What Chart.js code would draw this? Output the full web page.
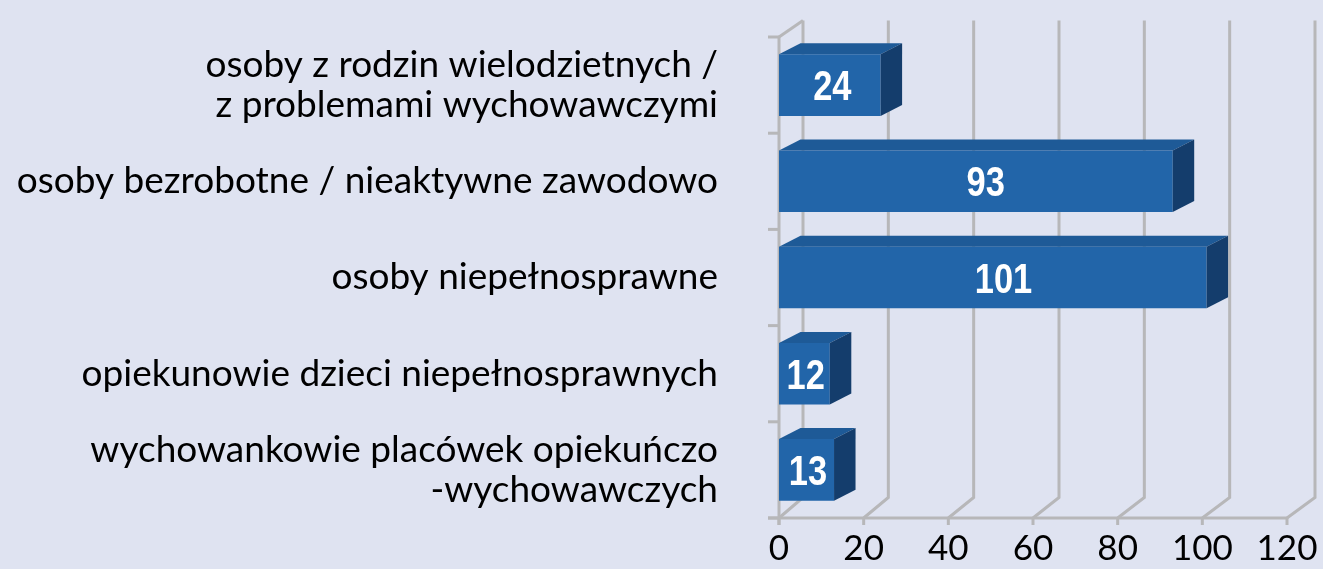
<!DOCTYPE html>
<html>
<head>
<meta charset="utf-8">
<script src="https://cdn.jsdelivr.net/npm/chart.js@4"></script>
<style>
  html, body { margin: 0; padding: 0; background: #dfe3f1; }
  #contenedor { width: 1323px; height: 569px; }
</style>
</head>
<body>
<div id="contenedor"><canvas id="grafico"></canvas></div>
<script>
// datos
const categorias = [
  ["osoby z rodzin wielodzietnych /", "z problemami wychowawczymi"],
  "osoby bezrobotne / nieaktywne zawodowo",
  "osoby niepełnosprawne",
  "opiekunowie dzieci niepełnosprawnych",
  ["wychowankowie placówek opiekuńczo", "-wychowawczych"],
];
const valores = [24, 93, 101, 12, 13];
const ticksX = [0, 20, 40, 60, 80, 100, 120];

const colores = {
  fondo: "#dfe3f1",
  frente: "#2265a9",
  arriba: "#1e5a97",
  lado: "#143d6c",
  rejilla: "#b7b7b9",
};

// paredes, rejilla y caras 3D
const caja3d = {
  id: "caja3d",
  beforeDraw(chart) {
    const ctx = chart.ctx;
    ctx.save();
    ctx.fillStyle = colores.fondo;
    ctx.fillRect(0, 0, chart.width, chart.height);
    ctx.restore();
  },
  beforeDatasetsDraw(chart) {
    const { ctx, chartArea: a, scales } = chart;
    const x = scales.x;
    const y = scales.y;
    const atras = (px, py) => {
      const tx = (px - a.left) / (a.right - a.left);
      const ty = (py - a.top) / (a.bottom - a.top);
      return [px + 24 + 4 * tx, py - 16.5 - 4 * ty];
    };
    ctx.save();
    ctx.strokeStyle = colores.rejilla;
    ctx.lineWidth = 3;
    ctx.lineCap = "butt";
    ticksX.forEach((v) => {
      const px = x.getPixelForValue(v);
      const [bx, bt] = atras(px, a.top);
      const [, bb] = atras(px, a.bottom);
      ctx.beginPath();
      ctx.moveTo(bx, bt);
      ctx.lineTo(bx, bb);
      ctx.lineTo(px, a.bottom);
      ctx.stroke();
      // marca abajo
      ctx.beginPath();
      ctx.moveTo(px, a.bottom);
      ctx.lineTo(px, a.bottom + 7);
      ctx.stroke();
    });
    // pared izquierda arriba
    const [lx, ly] = atras(a.left, a.top);
    ctx.beginPath();
    ctx.moveTo(a.left, a.top);
    ctx.lineTo(lx, ly);
    ctx.stroke();
    // eje vertical
    ctx.beginPath();
    ctx.moveTo(a.left, a.top);
    ctx.lineTo(a.left, a.bottom + 7);
    ctx.stroke();
    // eje horizontal
    ctx.beginPath();
    ctx.moveTo(a.left - 11, a.bottom);
    ctx.lineTo(x.getPixelForValue(ticksX[ticksX.length - 1]), a.bottom);
    ctx.stroke();
    // marcas izquierda
    for (let i = 0; i <= categorias.length; i++) {
      const py = y.getPixelForValue(i - 0.5);
      ctx.beginPath();
      ctx.moveTo(a.left - 11, py);
      ctx.lineTo(a.left, py);
      ctx.stroke();
    }
    ctx.restore();
  },
  afterDatasetsDraw(chart) {
    const ctx = chart.ctx;
    const meta = chart.getDatasetMeta(0);
    const dx = 21.5;
    const dy = -11;
    ctx.save();
    meta.data.forEach((barra, i) => {
      const x0 = barra.base;
      const x1 = barra.x;
      const top = barra.y - barra.height / 2;
      const bottom = barra.y + barra.height / 2;
      // cara superior
      ctx.fillStyle = colores.arriba;
      ctx.beginPath();
      ctx.moveTo(x0, top);
      ctx.lineTo(x1, top);
      ctx.lineTo(x1 + dx, top + dy);
      ctx.lineTo(x0 + dx, top + dy);
      ctx.closePath();
      ctx.fill();
      // cara lateral
      ctx.fillStyle = colores.lado;
      ctx.beginPath();
      ctx.moveTo(x1, top);
      ctx.lineTo(x1 + dx, top + dy);
      ctx.lineTo(x1 + dx, bottom + dy);
      ctx.lineTo(x1, bottom);
      ctx.closePath();
      ctx.fill();
      // etiqueta
      const cx = x0 + (x1 - x0) * 0.525;
      ctx.save();
      ctx.translate(cx, barra.y + 15);
      ctx.scale(0.82, 1);
      ctx.fillStyle = "#ffffff";
      ctx.font = "bold 42px 'Liberation Sans', Arial, sans-serif";
      ctx.textAlign = "center";
      ctx.textBaseline = "alphabetic";
      ctx.fillText(String(valores[i]), 0, 0);
      ctx.restore();
    });
    ctx.restore();
  },
};

const ctx = document.getElementById("grafico").getContext("2d");
const grafico = new Chart(ctx, {
  type: "bar",
  data: {
    labels: categorias,
    datasets: [
      {
        data: valores,
        backgroundColor: colores.frente,
        borderWidth: 0,
        barPercentage: 0.8,
        categoryPercentage: 0.8,
      },
    ],
  },
  options: {
    indexAxis: "y",
    responsive: true,
    maintainAspectRatio: false,
    animation: false,
    layout: { padding: { top: 37, right: 36, left: 0, bottom: 0 } },
    plugins: {
      legend: { display: false },
      tooltip: { enabled: false },
    },
    scales: {
      x: {
        min: 0,
        max: 120,
        afterBuildTicks: (s) => {
          s.ticks = ticksX.map((v) => ({ value: v }));
        },
        afterFit: (s) => {
          s.height = 51;
          s.paddingLeft = 0;
          s.paddingRight = 0;
        },
        grid: { display: false },
        border: { display: false },
        ticks: {
          color: "#000000",
          padding: 2,
          font: { family: "Lato", size: 35 },
        },
      },
      y: {
        afterFit: (s) => {
          s.width = 779;
          s.paddingTop = 0;
          s.paddingBottom = 0;
        },
        grid: { display: false },
        border: { display: false },
        ticks: {
          autoSkip: false,
          color: "#000000",
          padding: 53,
          font: { family: "Lato", size: 37, lineHeight: 1.08 },
        },
      },
    },
  },
  plugins: [caja3d],
});
</script>
</body>
</html>
